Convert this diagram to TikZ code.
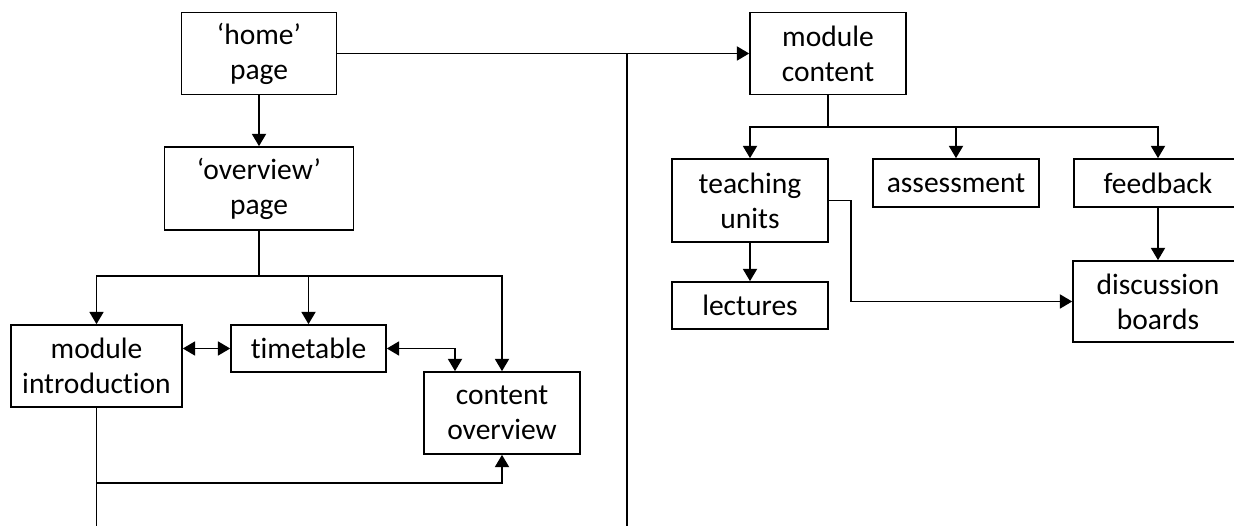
\documentclass[tikz,border=0pt]{standalone}
\usepackage{fontspec}
\setmainfont{Carlito}[Ligatures=NoCommon]
\usetikzlibrary{arrows.meta}

\begin{document}
\begin{tikzpicture}[x=0.02cm, y=-0.02cm, line width=0.95pt,
    >={Triangle[width=8pt,length=7pt]}]
        \tikzstyle{every node} = [align=center, draw, rectangle, inner sep=0pt,
            font=\fontsize{16.8}{20}\selectfont]
        \useasboundingbox (0,0) rectangle (1234,526);

        % left half: home and overview pages
        \node[minimum width=3.1cm, minimum height=1.64cm](home) at (259,53.5){‘home’\\page};
        \node[minimum width=3.78cm, minimum height=1.66cm](overview) at (259,188.5){‘overview’\\page};
        \node[minimum width=3.42cm, minimum height=1.64cm](intro) at (96.5,366){module\\introduction};
        \node[minimum width=3.1cm, minimum height=0.94cm](timetable) at (308.5,348.5){timetable};
        \node[minimum width=3.12cm, minimum height=1.64cm](contov) at (502,413){content\\overview};

        % right half: module content
        \node[minimum width=3.12cm, minimum height=1.64cm](modcont) at (828,53.5){module\\content};
        \node[minimum width=3.12cm, minimum height=1.66cm](teaching) at (750,200.5){teaching\\units};
        \node[minimum width=3.32cm, minimum height=0.96cm](assess) at (956,183){assessment};
        \node[minimum width=3.36cm, minimum height=0.96cm](feedback) at (1158,183){feedback};
        \node[minimum width=3.12cm, minimum height=0.94cm](lectures) at (750,305.5){lectures};
        \node[minimum width=3.4cm, minimum height=1.62cm](discussion) at (1158,301.5){discussion\\boards};

        \coordinate (split) at (627,53.5);
        \coordinate (splitend) at (627,526);
        \coordinate (ovbus) at (259,276);
        \coordinate (inbus) at (96.5,483);
        \coordinate (inend) at (96.5,526);
        \coordinate (mcbus) at (828,127);

        \draw[->] (home.east) -- (modcont.west);
        \draw (split) -- (splitend);
        \draw[->] (home.south) -- (overview.north);

        \draw (overview.south) -- (ovbus);
        \draw[->] (ovbus) -| (intro.north);
        \draw[->] (ovbus) -| (timetable.north);
        \draw[->] (ovbus) -| (contov.north);
        \draw[<->] (intro.east |- timetable.west) -- (timetable.west);
        \draw[<->] (timetable.east) -| ([xshift=-0.94cm]contov.north);
        \draw (intro.south) -- (inend);
        \draw[->] (inbus) -| (contov.south);

        \draw (modcont.south) -- (mcbus);
        \draw[->] (mcbus) -| (teaching.north);
        \draw[->] (mcbus) -| (assess.north);
        \draw[->] (mcbus) -| (feedback.north);
        \draw[->] (teaching.south) -- (lectures.north);
        \draw[->] (teaching.east) -- ++(22,0) |- (discussion.west);
        \draw[->] (feedback.south) -- (discussion.north);
    \end{tikzpicture}
\end{document}
